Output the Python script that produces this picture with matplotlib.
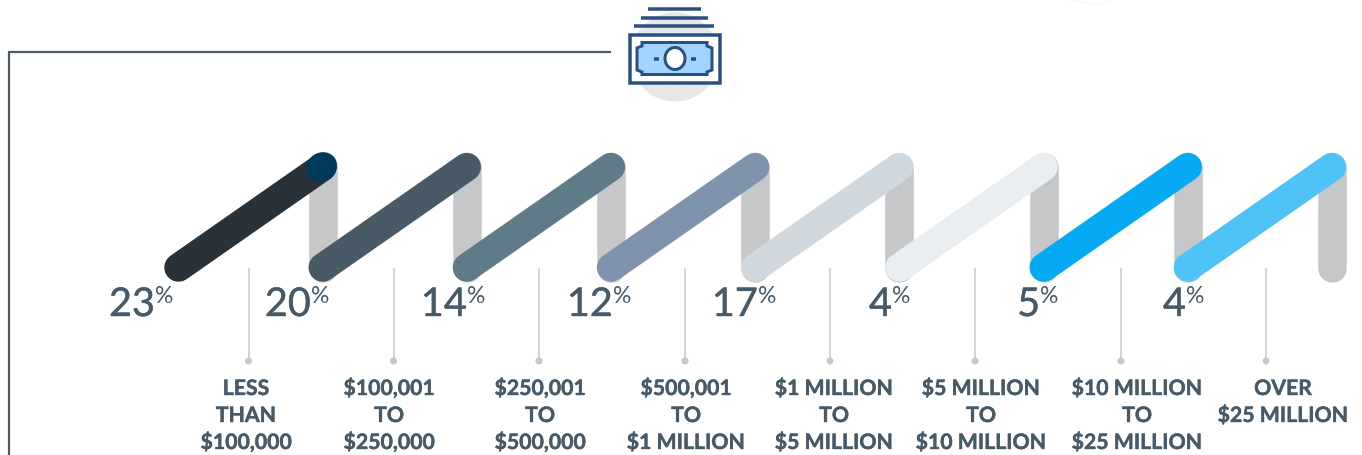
"""Investable assets brackets drawn as a zigzag ribbon with percentages."""

import matplotlib

matplotlib.use("Agg")
import matplotlib.patheffects as pe
import matplotlib.pyplot as plt
from matplotlib.patches import Circle, Ellipse, Polygon, Rectangle

percents = [23, 20, 14, 12, 17, 4, 5, 4]
brackets = [
    "LESS\nTHAN\n$100,000",
    "$100,001\nTO\n$250,000",
    "$250,001\nTO\n$500,000",
    "$500,001\nTO\n$1 MILLION",
    "$1 MILLION\nTO\n$5 MILLION",
    "$5 MILLION\nTO\n$10 MILLION",
    "$10 MILLION\nTO\n$25 MILLION",
    "OVER\n$25 MILLION",
]
ribbon_colors = ["#283238", "#475a65", "#5f7b88", "#7f93ad",
                 "#d0d8dd", "#ebeef0", "#05a9f4", "#4fc3f7"]

# layout, in reference pixels
number_right = [155, 311, 467, 613, 758, 892, 1040, 1186]
label_center = [246, 389, 540, 686, 834, 981, 1137, 1283]
leader_x = [248.5, 393.5, 539, 685, 830, 975, 1121, 1266]
ribbon_left = 178.5
ribbon_step = 144.2
ribbon_run = 144
ribbon_top = 167
ribbon_bottom = 267.5

TEXT = "#475a67"
GREY = "#c6c7c9"
NAVY = "#2a5082"
PX = 72 / 100  # one pixel in points

plt.rcParams["font.family"] = ["Lato", "DejaVu Sans"]

fig = plt.figure(figsize=(13.62, 4.55), dpi=100)
ax = fig.add_axes([0, 0, 1, 1])
ax.set_xlim(0, 1362)
ax.set_ylim(455, 0)
ax.axis("off")

# frame line running into the icon
ax.plot([611, 9, 9], [52, 52, 455], color="#4a5c68", lw=2.2 * PX,
        solid_joinstyle="miter", solid_capstyle="butt")

# faint leftover at the top edge
ax.plot([1072, 1100, 1110], [0, 5, 0], color="#f9f9f9", lw=2 * PX)

# money icon
ax.add_patch(Circle((675, 57), 44.5, color="#e6e7e8", lw=0))
for y, x0, x1 in [(9, 648, 701), (17.5, 641, 708), (26, 634, 714)]:
    ax.plot([x0, x1], [y, y], color=NAVY, lw=3.5 * PX, solid_capstyle="butt")
ax.add_patch(Rectangle((629.5, 34.5), 90, 48, facecolor="white",
                       edgecolor=NAVY, lw=3.5 * PX, zorder=2))
ax.add_patch(Polygon(
    [(642, 42.5), (707, 42.5), (707, 46), (712, 48), (712, 70), (707, 72),
     (707, 74.5), (642, 74.5), (642, 72), (637, 70), (637, 48), (642, 46)],
    closed=True, facecolor="#a3d4ff", edgecolor=NAVY, lw=3 * PX, zorder=3))
ax.add_patch(Ellipse((675, 58.5), 20, 22, facecolor="white", edgecolor=NAVY,
                     lw=3 * PX, zorder=4))
for x in (656, 693):
    ax.plot([x - 2.5, x + 2.5], [58.5, 58.5], color=NAVY, lw=3.5 * PX,
            solid_capstyle="butt", zorder=4)

# ribbon: grey returns first, coloured strokes on top
width = 28.5 * PX
for i, color in enumerate(ribbon_colors):
    x0 = ribbon_left + i * ribbon_step
    x1 = x0 + ribbon_run
    ax.plot([x1, x1], [ribbon_top, ribbon_bottom], color=GREY, lw=width,
            solid_capstyle="round", zorder=2)
    ax.plot([x0, x1], [ribbon_bottom, ribbon_top], color=color, lw=width,
            solid_capstyle="round", zorder=3)
    if i == 0:
        ax.add_patch(Ellipse((x1 - 1, ribbon_top), 32, 28.5, angle=-34,
                             color="#003a5c", lw=0, zorder=4))

heavier = [pe.withStroke(linewidth=0.3, foreground=TEXT)]
for i, pct in enumerate(percents):
    ax.text(number_right[i], 316, str(pct), ha="right", va="baseline",
            fontsize=28.5, color=TEXT, path_effects=heavier)
    ax.text(number_right[i], 303, "%", ha="left", va="baseline",
            fontsize=16.5, color=TEXT)

    ax.plot([leader_x[i], leader_x[i]], [269, 361], color=GREY, lw=1.5 * PX)
    ax.add_patch(Circle((leader_x[i], 361), 3.5, color=GREY, lw=0))

    for j, line in enumerate(brackets[i].split("\n")):
        ax.text(label_center[i], 395 + 27 * j, line, ha="center",
                va="baseline", fontsize=15.3, color=TEXT, fontweight="bold",
                path_effects=heavier)

fig.savefig("out.png", dpi=100)
plt.close(fig)
